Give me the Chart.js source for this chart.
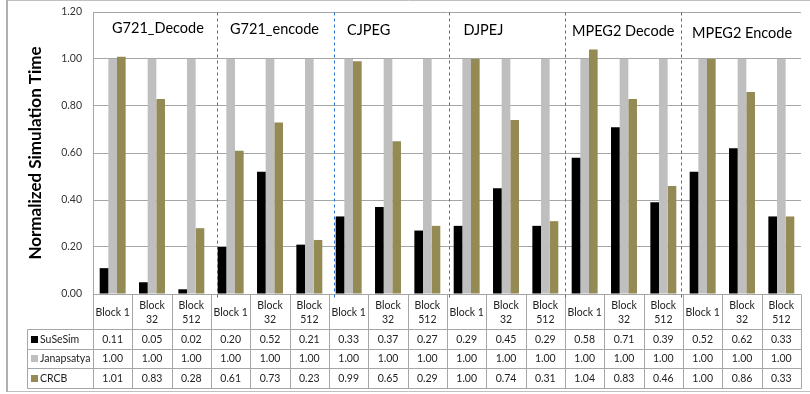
<!DOCTYPE html>
<html><head><meta charset="utf-8">
<script src="https://cdn.jsdelivr.net/npm/chart.js@4.4.1/dist/chart.umd.min.js"></script>
<style>html,body{margin:0;padding:0;background:#fff}#wrap{width:810px;height:394px;position:relative}</style>
</head><body><div id="wrap"><canvas id="c" width="810" height="394"></canvas></div>
<script>
const categories = [
  ["Block 1"], ["Block", "32"], ["Block", "512"],
  ["Block 1"], ["Block", "32"], ["Block", "512"],
  ["Block 1"], ["Block", "32"], ["Block", "512"],
  ["Block 1"], ["Block", "32"], ["Block", "512"],
  ["Block 1"], ["Block", "32"], ["Block", "512"],
  ["Block 1"], ["Block", "32"], ["Block", "512"]
];
const groups = ["G721_Decode", "G721_encode", "CJPEG", "DJPEJ", "MPEG2 Decode", "MPEG2 Encode"];
const seriesNames = ["SuSeSim", "Janapsatya", "CRCB"];
const suSeSim   = [0.11, 0.05, 0.02, 0.20, 0.52, 0.21, 0.33, 0.37, 0.27, 0.29, 0.45, 0.29, 0.58, 0.71, 0.39, 0.52, 0.62, 0.33];
const janapsatya = [1.00, 1.00, 1.00, 1.00, 1.00, 1.00, 1.00, 1.00, 1.00, 1.00, 1.00, 1.00, 1.00, 1.00, 1.00, 1.00, 1.00, 1.00];
const crcb      = [1.01, 0.83, 0.28, 0.61, 0.73, 0.23, 0.99, 0.65, 0.29, 1.00, 0.74, 0.31, 1.04, 0.83, 0.46, 1.00, 0.86, 0.33];
const yTickValues = [0.00, 0.20, 0.40, 0.60, 0.80, 1.00, 1.20];

const FONT = "Lato, 'Open Sans', sans-serif";
const colors = ["#000000", "#BFBFBF", "#948A54"];
const TABLE_LINE = "#A6A6A6";

// style-only tweaks for annotation placement
const dashShift = [6, 5, 1.5, 0, -2];
const groupTextShift = [19, 13, 13, 15, 7, 11];
const groupTextY = [28, 29, 30, 30, 31.5, 33];

const tablePlugin = {
  id: 'tablePlugin',
  beforeDraw(chart) {
    const ctx = chart.ctx;
    ctx.save();
    ctx.fillStyle = '#fff';
    ctx.fillRect(0, 0, chart.width, chart.height);
    ctx.strokeStyle = '#BFBFBF';
    ctx.lineWidth = 1;
    ctx.beginPath();
    ctx.moveTo(7, 0.5); ctx.lineTo(810, 0.5);
    ctx.moveTo(7, 391.5); ctx.lineTo(810, 391.5);
    ctx.stroke();
    ctx.lineWidth = 2;
    ctx.strokeStyle = '#B0B0B0';
    ctx.beginPath();
    ctx.moveTo(7, 0); ctx.lineTo(7, 392);
    ctx.stroke();
    ctx.restore();
  },
  afterDraw(chart) {
    const ctx = chart.ctx;
    const xs = chart.scales.x, ys = chart.scales.y;
    const n = categories.length;
    const step = xs.getPixelForValue(1) - xs.getPixelForValue(0);
    const bnd = k => xs.getPixelForValue(0) - step / 2 + k * step;
    const y0 = Math.round(ys.getPixelForValue(0)) + 0.5;
    const yTop = Math.round(ys.getPixelForValue(1.2)) + 0.5;
    const rows = [y0, y0 + 35, y0 + 55, y0 + 74, y0 + 94];
    const legendLeft = 27.5;
    ctx.save();
    ctx.strokeStyle = TABLE_LINE;
    ctx.lineWidth = 1;
    ctx.beginPath();
    for (let r = 1; r < rows.length; r++) {
      ctx.moveTo(legendLeft, rows[r]); ctx.lineTo(Math.round(bnd(n)) + 0.5, rows[r]);
    }
    for (let k = 1; k <= n; k++) {
      const x = Math.round(bnd(k)) + 0.5;
      ctx.moveTo(x, rows[0]); ctx.lineTo(x, rows[4]);
    }
    const xl = Math.round(bnd(0)) + 0.5;
    ctx.moveTo(xl, rows[0]); ctx.lineTo(xl, rows[4]);
    ctx.moveTo(legendLeft, rows[1]); ctx.lineTo(legendLeft, rows[4]);
    ctx.stroke();

    const data = [suSeSim, janapsatya, crcb];
    ctx.font = "10.5px " + FONT;
    ctx.fillStyle = '#222';
    ctx.textAlign = 'center';
    ctx.textBaseline = 'middle';
    for (let s = 0; s < 3; s++) {
      const cy = (rows[s + 1] + rows[s + 2]) / 2;
      for (let i = 0; i < n; i++) {
        ctx.fillText(data[s][i].toFixed(2), xs.getPixelForValue(i), cy);
      }
    }
    ctx.textAlign = 'left';
    for (let s = 0; s < 3; s++) {
      const cy = (rows[s + 1] + rows[s + 2]) / 2;
      ctx.fillStyle = colors[s];
      ctx.fillRect(31, Math.round(cy - 4), 7, 7);
      ctx.fillStyle = '#222';
      ctx.fillText(chart.data.datasets[s].label, 40, cy);
    }

    ctx.strokeStyle = '#2F74D0';
    ctx.setLineDash([3, 3]);
    ctx.lineWidth = 1;
    for (let g = 1; g < groups.length; g++) {
      const x = Math.round(bnd(g * 3) + dashShift[g - 1]) + 0.5;
      ctx.beginPath();
      ctx.moveTo(x, yTop); ctx.lineTo(x, y0 + 3);
      ctx.stroke();
    }
    ctx.setLineDash([]);

    ctx.font = "14.5px " + FONT;
    ctx.fillStyle = '#000';
    ctx.textAlign = 'left';
    for (let g = 0; g < groups.length; g++) {
      const left = g === 0 ? bnd(0) : bnd(g * 3) + dashShift[g - 1];
      ctx.fillText(groups[g], left + groupTextShift[g], groupTextY[g]);
    }
    ctx.restore();
  }
};

new Chart(document.getElementById('c'), {
  type: 'bar',
  data: {
    labels: categories,
    datasets: [
      { label: seriesNames[0], data: suSeSim, backgroundColor: colors[0] },
      { label: seriesNames[1], data: janapsatya, backgroundColor: colors[1] },
      { label: seriesNames[2], data: crcb, backgroundColor: colors[2] }
    ]
  },
  options: {
    responsive: false,
    animation: false,
    devicePixelRatio: 1,
    layout: { padding: { top: 12, right: 9, left: 0, bottom: 0 } },
    datasets: { bar: { categoryPercentage: 0.66, barPercentage: 1.0 } },
    plugins: { legend: { display: false }, tooltip: { enabled: false } },
    scales: {
      x: {
        grid: { display: false, drawTicks: false },
        border: { display: false },
        ticks: {
          font: { family: FONT, size: 10.5, lineHeight: 1.333 },
          color: '#222',
          padding: 12,
          crossAlign: 'center',
          maxRotation: 0,
          autoSkip: false
        },
        afterFit(scale) { scale.height = 100; scale.paddingLeft = 0; scale.paddingRight = 0; }
      },
      y: {
        min: 0, max: 1.2,
        afterBuildTicks(scale) { scale.ticks = yTickValues.map(v => ({ value: v })); },
        grid: { color: '#A6A6A6', drawTicks: false },
        border: { display: true, color: '#A6A6A6' },
        ticks: {
          font: { family: FONT, size: 10.5 },
          color: '#333',
          padding: 11,
          callback: v => Number(v).toFixed(2)
        },
        title: {
          display: true,
          text: 'Normalized Simulation Time',
          font: { family: FONT, size: 17, weight: 'bold' },
          color: '#000',
          padding: { top: 25, bottom: 0 }
        },
        afterFit(scale) { scale.width = 93; scale.paddingTop = 0; scale.paddingBottom = 0; }
      }
    }
  },
  plugins: [tablePlugin]
});
</script>
</body></html>
